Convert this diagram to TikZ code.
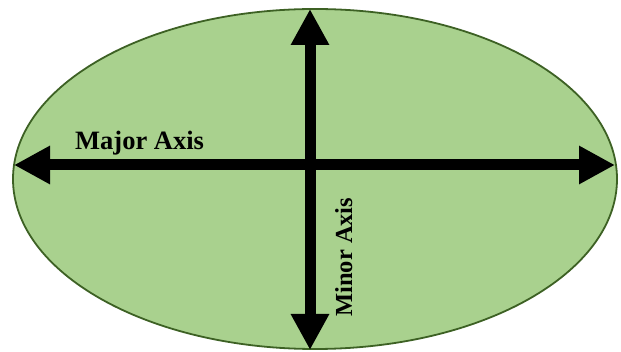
\documentclass[tikz,border=0pt]{standalone}
\usepackage{fontspec}
\setmainfont{Liberation Serif}
\usetikzlibrary{arrows.meta,shapes.geometric}
\definecolor{ellfill}{HTML}{A9D18E}
\definecolor{elldraw}{HTML}{3D6124}
\tikzset{
  axisarrow/.style={line width=11pt, {Triangle[length=36pt,width=36pt]}-{Triangle[length=36pt,width=36pt]}, black},
  axislabel/.style={inner sep=0pt, font=\bfseries}
}
\begin{document}
\begin{tikzpicture}[x=1pt,y=-1pt]
\useasboundingbox (0,0) rectangle (621,352);
\fill[white] (0,0) rectangle (621,352);
\node[ellipse, draw=elldraw, fill=ellfill, line width=1.8pt, minimum width=604pt, minimum height=340pt, inner sep=0pt] (ell) at (315,179) {};
\coordinate (L) at (14,165);
\coordinate (R) at (615,165);
\coordinate (T) at (310,9);
\coordinate (B) at (310,350);
\draw[axisarrow] (L) -- (R);
\draw[axisarrow] (T) -- (B);
\node[axislabel, anchor=base west, font=\bfseries\fontsize{26.5pt}{30pt}\selectfont] (maj) at (75,150) {Major Axis};
\node[axislabel, anchor=base west, rotate=90, font=\bfseries\fontsize{24.5pt}{28pt}\selectfont] (min) at (352,317) {Minor Axis};
\end{tikzpicture}
\end{document}
